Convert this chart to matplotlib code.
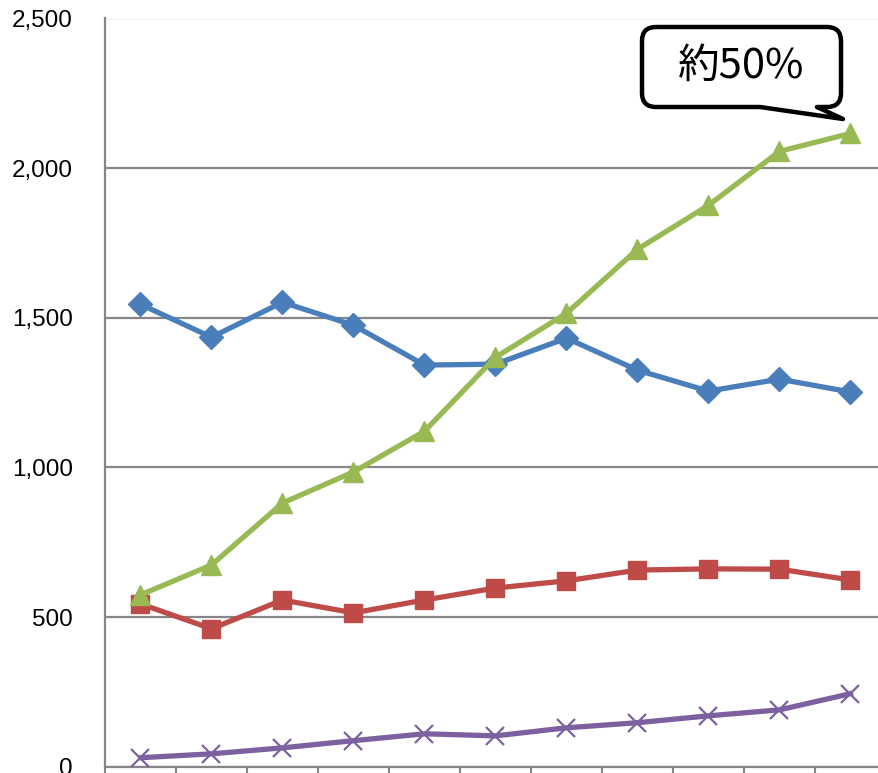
import numpy as np
import matplotlib
matplotlib.use('Agg')
import matplotlib.pyplot as plt
from matplotlib.path import Path
from matplotlib.patches import PathPatch

# data (11 periods, no x labels shown)
periods = np.arange(11)
blue_vals = [1545, 1435, 1552, 1475, 1342, 1345, 1432, 1325, 1255, 1295, 1252]
red_vals = [544, 461, 557, 514, 557, 597, 621, 657, 661, 660, 624]
green_vals = [574, 674, 881, 985, 1121, 1368, 1515, 1729, 1876, 2056, 2116]
purple_vals = [30, 43, 63, 87, 110, 103, 130, 147, 170, 190, 244]
yticks = [0, 500, 1000, 1500, 2000, 2500]
callout_text = '約50%'

W, H = 879, 773
fig = plt.figure(figsize=(W/100, H/100), dpi=100)
# plot area runs past the right edge of the picture (cropped chart)
ax = fig.add_axes([105/W, 1-766.7/H, 781/W, 748.2/H])

gray = '#868686'
lw = 3.8
ax.plot(periods, blue_vals, color='#4a7ebb', lw=lw, marker='D', ms=12, zorder=3)
ax.plot(periods, red_vals, color='#be4b48', lw=lw, marker='s', ms=12.5, zorder=3)
ax.plot(periods, green_vals, color='#98b954', lw=lw, marker='^', ms=15, zorder=3)
ax.plot(periods, purple_vals, color='#7d60a0', lw=lw, marker='x', ms=13, mew=1.6, zorder=3)

ax.set_xlim(-0.5, 10.5)
ax.set_ylim(0, 2500)
ax.set_yticks(yticks)
ax.set_yticklabels(['{:,}'.format(v) for v in yticks], family='Liberation Sans', fontsize=17.5)
ax.set_xticks(np.arange(-0.5, 11, 1))
ax.set_xticklabels([])
ax.tick_params(axis='y', length=0, pad=23)
ax.tick_params(axis='x', direction='out', length=5, width=1.5, color=gray)
ax.yaxis.grid(True, color=gray, lw=1.6)
ax.set_axisbelow(True)
for s in ['top', 'right']:
    ax.spines[s].set_visible(False)
for s in ['left', 'bottom']:
    ax.spines[s].set_color(gray)
    ax.spines[s].set_linewidth(1.6)

# speech-bubble callout (pixel coords, y down)
x0, x1, y0, y1, r = 642, 841, 27, 107, 14
pts = [(x0+r, y0), (x1-r, y0), (x1, y0), (x1, y0+r), (x1, y1-r), (x1, y1), (x1-r, y1),
       (817, y1), (843, 119), (760, y1), (x0+r, y1), (x0, y1), (x0, y1-r),
       (x0, y0+r), (x0, y0), (x0+r, y0), (x0+r, y0)]
codes = [Path.MOVETO, Path.LINETO, Path.CURVE3, Path.CURVE3, Path.LINETO, Path.CURVE3, Path.CURVE3,
         Path.LINETO, Path.LINETO, Path.LINETO, Path.LINETO, Path.CURVE3, Path.CURVE3,
         Path.LINETO, Path.CURVE3, Path.CURVE3, Path.CLOSEPOLY]
verts = [(x/W, 1-y/H) for x, y in pts]
bubble = PathPatch(Path(verts, codes), facecolor='white', edgecolor='black', lw=3.2,
                   transform=fig.transFigure, zorder=5, joinstyle='round')
fig.patches.append(bubble)
fig.text(741/W, 1-66/H, callout_text, family=['Noto Sans CJK JP', 'DejaVu Sans'],
         fontsize=30, ha='center', va='center', zorder=6)

fig.savefig('out.png', dpi=100)
